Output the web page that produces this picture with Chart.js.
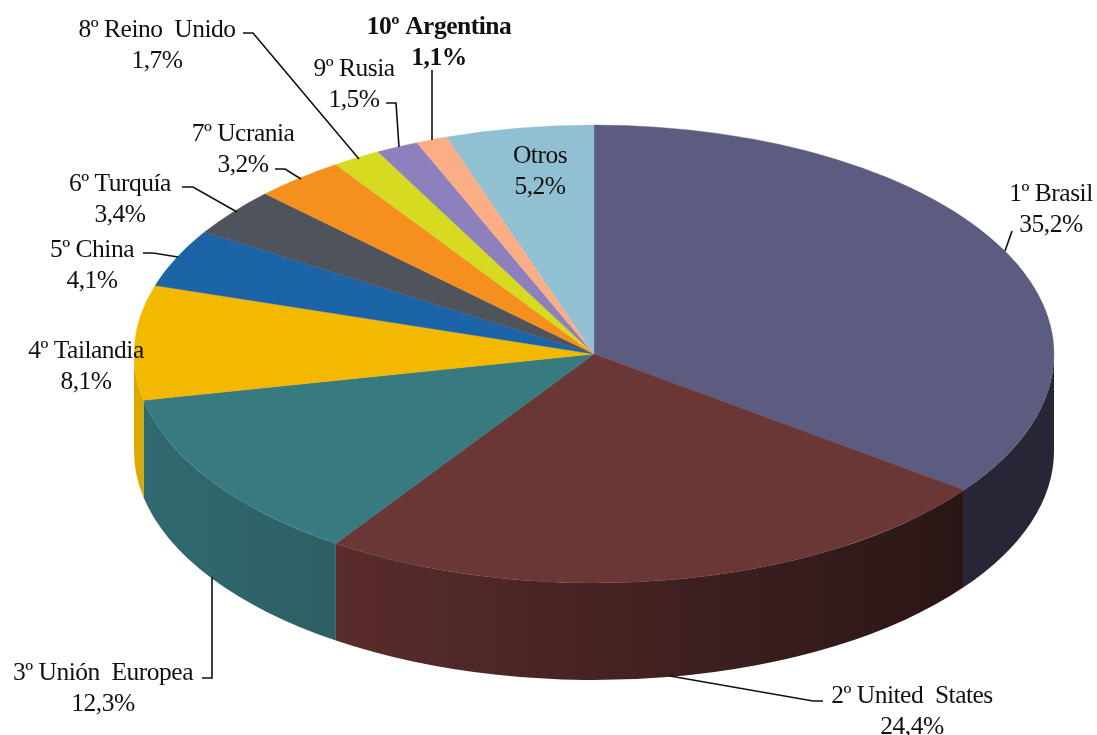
<!DOCTYPE html>
<html>
<head>
<meta charset="utf-8">
<title>Producción mundial</title>
<script src="https://cdn.jsdelivr.net/npm/chart.js@4"></script>
<style>
  html, body { margin: 0; padding: 0; background: #fff; }
  canvas { display: block; }
</style>
</head>
<body>
<canvas id="chartCanvas" width="1097" height="735"></canvas>
<script>
// --- Data ---
const countries = ["1º Brasil", "2º United  States", "3º Unión  Europea", "4º Tailandia", "5º China",
  "6º Turquía", "7º Ucrania", "8º Reino  Unido", "9º Rusia", "10º Argentina", "Otros"];
const shares = [35.2, 24.4, 12.3, 8.1, 4.1, 3.4, 3.2, 1.7, 1.5, 1.1, 5.2];
const shareLabels = ["35,2%", "24,4%", "12,3%", "8,1%", "4,1%", "3,4%", "3,2%", "1,7%", "1,5%", "1,1%", "5,2%"];

const topColors = ["#5b5c80", "#6b3636", "#377a80", "#f2b900", "#1c64a8", "#4f535c",
  "#f5901e", "#d6da20", "#8e80bc", "#fbad85", "#91c0d3"];
// wall colours, left and right end of each slice
const wallLeft = ["#262637", "#5a2c2c", "#2f6a70", "#dba800", "#1c64a8", "#4f535c",
  "#f5901e", "#d6da20", "#8e80bc", "#fbad85", "#91c0d3"];
const wallRight = ["#262637", "#2a1616", "#2d5f64", "#dba800", "#1c64a8", "#4f535c",
  "#f5901e", "#d6da20", "#8e80bc", "#fbad85", "#91c0d3"];

// label anchors: [centre x, first baseline y]
const labelAnchors = [
  [1051, 201], [912, 703], [103, 680], [86, 358], [92, 257], [120, 191],
  [243, 141], [157, 37], [354, 76], [439, 34], [540, 163]
];
const leaderLines = [
  [[1005, 251], [1012, 231]],
  [[670, 676], [813, 701], [823, 701]],
  [[212, 577], [212, 678], [202, 678]],
  null,
  [[178, 257], [153, 253], [143, 253]],
  [[237, 212], [193, 187], [182, 187]],
  [[301, 179], [285, 169], [275, 169]],
  [[359, 159], [253, 33], [243, 33]],
  [[399, 147], [396, 103], [386, 103]],
  [[432, 140], [432, 70]],
  null
];

const squash = 229 / 460;
const wallDepth = 97;

// squashes the flat pie into the tilted ellipse and adds the side wall
const tiltPlugin = {
  id: "tilt",
  beforeDatasetsDraw(chart) {
    const ctx = chart.ctx;
    const arcs = chart.getDatasetMeta(0).data;
    const { x: cx, y: cy, outerRadius } = arcs[0].getProps(["x", "y", "outerRadius"], true);
    const ry = outerRadius * squash;

    arcs.forEach((arc, i) => {
      const { startAngle, endAngle } = arc.getProps(["startAngle", "endAngle"], true);
      // only the front half of the rim can be seen
      const from = Math.max(startAngle, 0);
      const to = Math.min(endAngle, Math.PI);
      if (to <= from) return;
      const x0 = cx + outerRadius * Math.cos(from);
      const x1 = cx + outerRadius * Math.cos(to);
      const grad = ctx.createLinearGradient(Math.min(x0, x1), 0, Math.max(x0, x1), 0);
      grad.addColorStop(0, wallLeft[i]);
      grad.addColorStop(1, wallRight[i]);
      ctx.beginPath();
      ctx.ellipse(cx, cy, outerRadius, ry, 0, from, to);
      ctx.ellipse(cx, cy + wallDepth, outerRadius, ry, 0, to, from, true);
      ctx.closePath();
      ctx.fillStyle = grad;
      ctx.fill();
    });

    ctx.save();
    ctx.translate(cx, cy);
    ctx.scale(1, squash);
    ctx.translate(-cx, -cy);
  },
  afterDatasetsDraw(chart) {
    chart.ctx.restore();
  }
};

// category and value text, with the leader lines
const labelPlugin = {
  id: "calloutLabels",
  afterDraw(chart) {
    const ctx = chart.ctx;
    ctx.save();
    ctx.fillStyle = "#111";
    ctx.strokeStyle = "#111";
    ctx.lineWidth = 1.6;
    ctx.textAlign = "center";
    ctx.textBaseline = "alphabetic";
    ctx.letterSpacing = "-0.5px";
    countries.forEach((name, i) => {
      const [x, y] = labelAnchors[i];
      ctx.font = (i === 9 ? "bold " : "") + "25.5px 'Liberation Serif'";
      ctx.fillText(name, x, y);
      ctx.fillText(shareLabels[i], x, y + 30.5);
      const line = leaderLines[i];
      if (line) {
        ctx.beginPath();
        line.forEach(([px, py], k) => k ? ctx.lineTo(px, py) : ctx.moveTo(px, py));
        ctx.stroke();
      }
    });
    ctx.restore();
  }
};

new Chart(document.getElementById("chartCanvas"), {
  type: "pie",
  data: {
    labels: countries,
    datasets: [{
      data: shares,
      backgroundColor: topColors,
      borderColor: topColors,
      borderWidth: 0.5,
      radius: 460,
      clip: false
    }]
  },
  options: {
    responsive: false,
    animation: false,
    layout: { padding: { left: 91, bottom: 27 } },
    plugins: { legend: { display: false }, tooltip: { enabled: false } }
  },
  plugins: [tiltPlugin, labelPlugin]
});
</script>
</body>
</html>
